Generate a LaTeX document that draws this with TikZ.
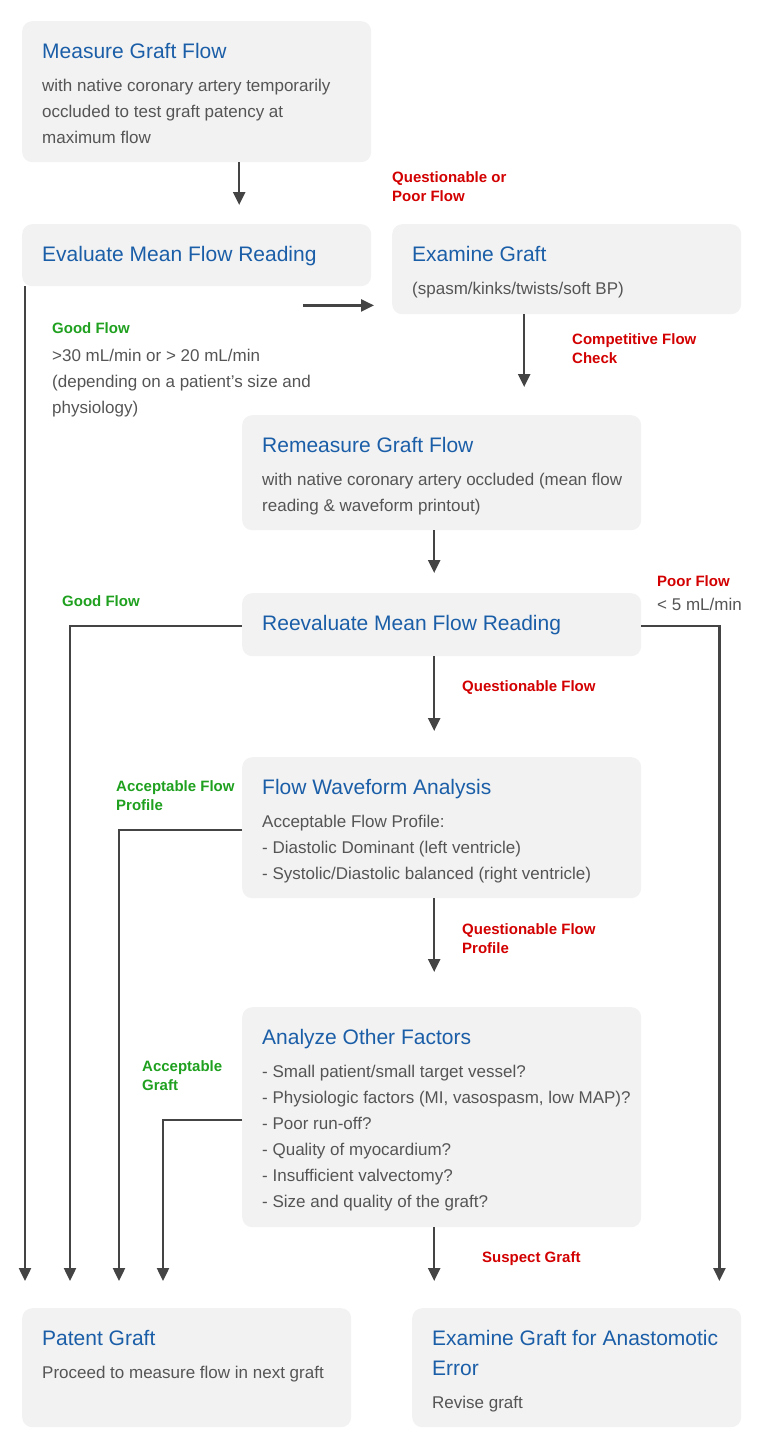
\documentclass[tikz,border=0pt]{standalone}
\usepackage{fontspec}
\setmainfont{Liberation Sans}
\usetikzlibrary{arrows.meta}
\definecolor{cardgray}{HTML}{F2F2F2}
\definecolor{titleblue}{HTML}{1B5EA8}
\definecolor{bodygray}{HTML}{555555}
\definecolor{linegray}{HTML}{444444}
\definecolor{badred}{HTML}{D20000}
\definecolor{okgreen}{HTML}{1FA01F}
\newcommand{\titlefont}{\fontsize{21}{30}\selectfont\color{titleblue}}
\newcommand{\bodyfont}{\fontsize{17}{26}\selectfont\color{bodygray}}
% width, height, title, body
\newcommand{\cardtext}[4]{\hspace*{20pt}\parbox[c][#2pt][t]{\dimexpr#1pt-30pt\relax}{\raggedright\titlefont\rule{0pt}{37pt}#3\par\vspace{7pt}\bodyfont #4}\hspace*{10pt}}
\tikzset{
  card/.style={fill=cardgray, rounded corners=10pt, inner sep=0pt, anchor=north west},
  flow/.style={draw=linegray, line width=2.4pt, -{Triangle[width=12pt,length=13pt]}},
  lbl/.style={font=\fontsize{15}{19}\selectfont\bfseries, align=left, inner sep=0pt, anchor=base west},
  info/.style={font=\bodyfont, align=left, inner sep=0pt, anchor=base west}
}

\begin{document}
\begin{tikzpicture}[x=1pt, y=-1pt]
		%%%%% START %%%%%
		\useasboundingbox (0,0) rectangle (768,1443);
		
		\node[card] (measure) at (22,21) {\cardtext{349}{141}{Measure Graft Flow}{with native coronary artery temporarily\\occluded to test graft patency at\\maximum flow}};
		\node[card] (evaluate) at (22,224) {\cardtext{349}{62}{Evaluate Mean Flow Reading}{}};
		\node[card] (examine) at (392,224) {\cardtext{349}{90}{Examine Graft}{(spasm/kinks/twists/soft BP)}};
		\node[card] (remeasure) at (242,415) {\cardtext{399}{115}{Remeasure Graft Flow}{with native coronary artery occluded (mean flow\\reading \& waveform printout)}};
		\node[card] (reeval) at (242,593) {\cardtext{399}{63}{Reevaluate Mean Flow Reading}{}};
		\node[card] (waveform) at (242,757) {\cardtext{399}{141}{Flow Waveform Analysis}{Acceptable Flow Profile:\\- Diastolic Dominant (left ventricle)\\- Systolic/Diastolic balanced (right ventricle)}};
		\node[card] (analyze) at (242,1007) {\cardtext{399}{220}{Analyze Other Factors}{- Small patient/small target vessel?\\- Physiologic factors (MI, vasospasm, low MAP)?\\- Poor run-off?\\- Quality of myocardium?\\- Insufficient valvectomy?\\- Size and quality of the graft?}};
		\node[card] (patent) at (22,1308) {\cardtext{329}{119}{Patent Graft}{Proceed to measure flow in next graft}};
		\node[card] (anast) at (412,1308) {\cardtext{329}{119}{Examine Graft for Anastomotic\\Error}{Revise graft}};
		
		% main path
		\draw[flow, shorten >=19pt] ([xshift=42.5pt]measure.south) -- ([xshift=42.5pt]measure.south |- evaluate.north);
		\draw[flow] ([shift={(-68,19)}]evaluate.south east) -- ([shift={(-18,-9)}]examine.south west);
		\draw[flow, shorten >=28pt] ([xshift=-42.5pt]examine.south) -- ([xshift=-42.5pt]examine.south |- remeasure.north);
		\draw[flow, shorten >=20pt] ([xshift=-7.5pt]remeasure.south) -- ([xshift=-7.5pt]reeval.north);
		\draw[flow, shorten >=26pt] ([xshift=-7.5pt]reeval.south) -- ([xshift=-7.5pt]waveform.north);
		\draw[flow, shorten >=35pt] ([xshift=-7.5pt]waveform.south) -- ([xshift=-7.5pt]analyze.north);
		\draw[flow, shorten >=27pt] ([xshift=-7.5pt]analyze.south) -- ([xshift=-7.5pt]analyze.south |- anast.north);
		
		% side paths
		\draw[flow] ([xshift=3pt]evaluate.south west) -- ([shift={(3,-27)}]patent.north west);
		\draw[flow] ([yshift=-1.5pt]reeval.west) -| ([shift={(48,-27)}]patent.north west);
		\draw[flow] ([yshift=-2.5pt]waveform.west) -| ([shift={(97,-27)}]patent.north west);
		\draw[flow] ([yshift=-3pt]analyze.west) -| ([shift={(141,-27)}]patent.north west);
		\draw[flow] ([yshift=-1.5pt]reeval.east) -| ([shift={(-22,-27)}]anast.north east);
		
		% labels (base = last line)
		\node[lbl, badred] (qpoor) at (392,201) {Questionable or\\Poor Flow};
		\node[lbl, badred] (compet) at (572,363) {Competitive Flow\\Check};
		\node[lbl, okgreen] (goodA) at (52,333) {Good Flow};
		\node[info] (goodAinfo) at (52,413) {>30 mL/min or > 20 mL/min\\(depending on a patient’s size and\\physiology)};
		\node[lbl, okgreen] (goodB) at (62,606) {Good Flow};
		\node[lbl, badred] (poor) at (657,586) {Poor Flow};
		\node[info] (poorinfo) at (657,610) {< 5 mL/min};
		\node[lbl, badred] (qflow) at (462,691) {Questionable Flow};
		\node[lbl, badred] (qprofile) at (462,953) {Questionable Flow\\Profile};
		\node[lbl, okgreen] (accprofile) at (116,810) {Acceptable Flow\\Profile};
		\node[lbl, okgreen] (accgraft) at (142,1090) {Acceptable\\Graft};
		\node[lbl, badred] (suspect) at (482,1262) {Suspect Graft};
		%%%%% END %%%%%
\end{tikzpicture}
\end{document}
